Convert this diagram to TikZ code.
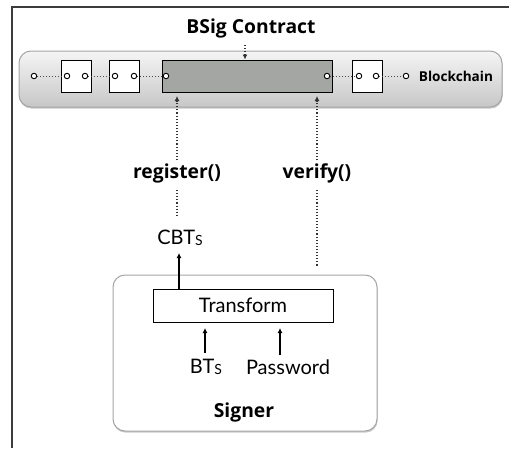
\documentclass[tikz,border=0pt]{standalone}
\usepackage{fontspec}
\setmainfont{Lato}
\newfontfamily\headfont{Open Sans}
\usetikzlibrary{arrows.meta,shadows}

\definecolor{framegray}{RGB}{60,60,60}
\definecolor{contractgray}{RGB}{163,166,163}
\definecolor{barborder}{RGB}{165,165,165}

\tikzset{
  heading/.style={font=\headfont\bfseries\fontsize{19.3}{19.3}\selectfont, inner sep=0pt},
  plain/.style={font=\fontsize{20}{20}\selectfont, inner sep=0pt},
  blockbox/.style={draw=black, line width=1pt, fill=white, minimum width=30pt, minimum height=32pt, inner sep=0pt},
  link/.style={circle, draw=black, line width=0.9pt, fill=white, minimum size=5.5pt, inner sep=0pt},
  chainline/.style={line width=1pt, dotted, black!70},
  callline/.style={line width=1.1pt, dotted, black!80},
  callarrow/.style={callline, -{Latex[length=5pt,width=5pt]}},
  dataarrow/.style={line width=1.1pt, black, -{Latex[length=5pt,width=5pt]}},
  panel/.style={rounded corners=12pt, draw=barborder, line width=1pt, inner sep=0pt,
    drop shadow={shadow xshift=0.6pt, shadow yshift=-1.6pt, opacity=0.35, fill=black!60}},
}

\begin{document}
\begin{tikzpicture}[x=1pt,y=-1pt]
\useasboundingbox (0,0) rectangle (509,448);
\fill[white] (0,0) rectangle (509,448);

% frame lines
\draw[framegray, line width=1.5pt] (12,448) -- (12,7) -- (509,7);

% blockchain bar
\node[panel, top color=black!4, bottom color=black!22, minimum width=483pt, minimum height=56pt]
  (bar) at (260.5,79) {};

% blocks of the chain
\node[blockbox] (b1) at (76,76) {};
\node[blockbox] (b2) at (124.5,76) {};
\node[blockbox, fill=contractgray, minimum width=170pt] (bsig) at (247,76) {};
\node[blockbox] (b3) at (367.5,76) {};

% links between blocks
\node[link] (l0) at (34,76) {};
\node[link] (l1) at (67,76) {};
\node[link] (l2) at (85,76) {};
\node[link] (l3) at (115,76) {};
\node[link] (l4) at (134,76) {};
\node[link] (l5) at (166,76) {};
\node[link] (l6) at (327,76) {};
\node[link] (l7) at (359,76) {};
\node[link] (l8) at (376,76) {};
\node[link] (l9) at (406,76) {};

\draw[chainline] (l0) -- (l1);
\draw[chainline] (l2) -- (l3);
\draw[chainline] (l4) -- (l5);
\draw[chainline] (l6) -- (l7);
\draw[chainline] (l8) -- (l9);

\node[heading, font=\headfont\bfseries\fontsize{13.6}{13.6}\selectfont] (chainlabel) at (456,76.5) {Blockchain};

% contract title
\node[heading] (title) at (251,28) {BSig Contract};
\coordinate (titlefoot) at (245,45);
\draw[callarrow] (titlefoot) -- (titlefoot |- bsig.north);

% calls from the signer
\node[heading] (register) at (177,173) {register()};
\node[heading] (verify) at (317,173) {verify()};
\coordinate (regtop) at (177,96);
\coordinate (vertop) at (317,96);
\coordinate (regfoot) at (177,160);
\coordinate (verfoot) at (317,160);
\draw[callarrow] (regfoot) -- (regtop);
\draw[callarrow] (verfoot) -- (vertop);

\node[plain] (cbt) at (180,238) {CBT\raisebox{-1.5pt}{\fontsize{14}{14}\selectfont S}};
\coordinate (regbelow) at (177,190);
\coordinate (regend) at (177,217);
\coordinate (verbelow) at (317,190);
\coordinate (verend) at (317,266);
\draw[callline] (regbelow) -- (regend);
\draw[callline] (verbelow) -- (verend);

% signer
\node[panel, fill=white, minimum width=264pt, minimum height=156pt] (signer) at (245,353) {};
\node[draw=black, line width=1pt, fill=white, minimum width=180pt, minimum height=33pt, inner sep=0pt]
  (transform) at (243,305.5) {};
\node[plain] (transformlabel) at (243,305) {Transform};
\coordinate (cbtfoot) at (179,253);
\draw[dataarrow] (transform.north -| cbtfoot) -- (cbtfoot);

\node[plain] (bts) at (206,367) {BT\raisebox{-1.5pt}{\fontsize{14}{14}\selectfont S}};
\node[plain] (pwd) at (288,367) {Password};
\coordinate (btstip) at (205,328);
\coordinate (pwdtip) at (280,328);
\draw[dataarrow] (btstip |- bts.north) ++(0,-6) -- (btstip);
\draw[dataarrow] (pwdtip |- pwd.north) ++(0,-4) -- (pwdtip);

\node[heading] (signerlabel) at (244,412) {Signer};
\end{tikzpicture}
\end{document}
